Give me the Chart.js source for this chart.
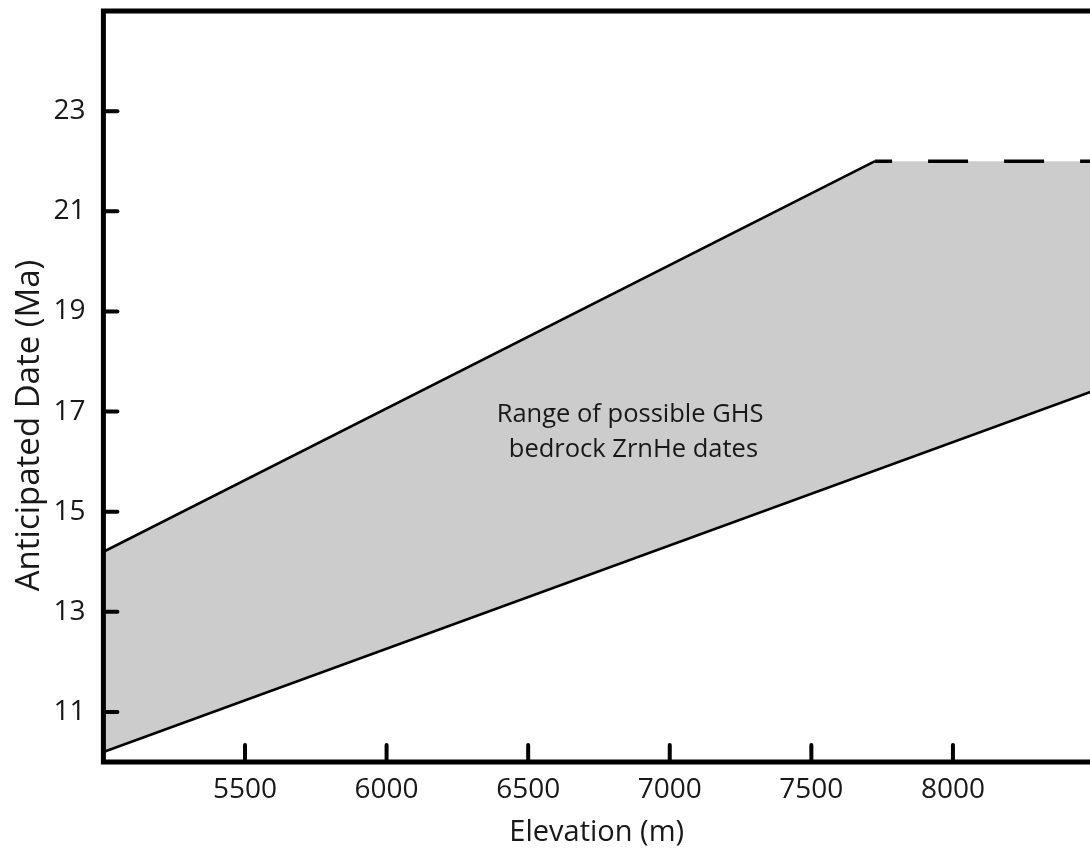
<!DOCTYPE html>
<html>
<head>
<meta charset="utf-8">
<script src="https://cdn.jsdelivr.net/npm/chart.js@4.4.1/dist/chart.umd.min.js"></script>
<style>
  html, body { margin: 0; padding: 0; background: #fff; overflow: hidden; }
</style>
</head>
<body>
<canvas id="rangeChart" width="1090" height="853"></canvas>
<script>
const elevTicks = [5500, 6000, 6500, 7000, 7500, 8000];
const dateTicks = [11, 13, 15, 17, 19, 21, 23];

// upper edge of the band (solid, then dashed once it flattens out)
const upperElev = [5000, 7725, 8500];
const upperDate = [14.2, 22.0, 22.0];

// lower edge of the band
const lowerElev = [5000, 8500];
const lowerDate = [10.2, 17.42];

const bandLabel = ["Range of possible GHS", " bedrock ZrnHe dates"];
const yTitle = "Anticipated Date (Ma)";

const FONT = "'Open Sans', sans-serif";
const INK = "#1a1718";

// frame + inward tick marks, y title and the label inside the band
const framePlugin = {
  id: "frame",
  afterDatasetsDraw(chart) {
    const { ctx, chartArea: a, scales: { x, y } } = chart;
    ctx.save();
    ctx.strokeStyle = "#000";
    ctx.lineWidth = 5;
    ctx.lineJoin = "miter";
    ctx.beginPath();
    ctx.moveTo(a.right + 5, a.top);
    ctx.lineTo(a.left, a.top);
    ctx.lineTo(a.left, a.bottom);
    ctx.lineTo(a.right + 5, a.bottom);
    ctx.stroke();

    ctx.lineWidth = 4;
    ctx.lineCap = "round";
    y.ticks.forEach(t => {
      const py = y.getPixelForValue(t.value);
      ctx.beginPath();
      ctx.moveTo(a.left, py);
      ctx.lineTo(a.left + 14, py);
      ctx.stroke();
    });
    x.ticks.forEach(t => {
      const px = x.getPixelForValue(t.value);
      ctx.beginPath();
      ctx.moveTo(px, a.bottom);
      ctx.lineTo(px, a.bottom - 17);
      ctx.stroke();
    });

    // band label
    ctx.fillStyle = INK;
    ctx.font = "25.5px " + FONT;
    ctx.textAlign = "center";
    ctx.textBaseline = "alphabetic";
    const cx = x.getPixelForValue(6860);
    ctx.fillText(bandLabel[0], cx, y.getPixelForValue(16.79));
    ctx.fillText(bandLabel[1], cx, y.getPixelForValue(16.09));

    // y axis title, sits a bit below the middle of the axis
    ctx.font = "33px " + FONT;
    ctx.translate(38.5, 425.5);
    ctx.rotate(-Math.PI / 2);
    ctx.fillText(yTitle, 0, 0);
    ctx.restore();
  }
};

const dashed = (c, v) => (c.p0DataIndex >= 1 ? v : undefined);
const pts = (xs, ys) => xs.map((e, i) => ({ x: e, y: ys[i] }));

const ctx = document.getElementById("rangeChart").getContext("2d");
const chart = new Chart(ctx, {
  type: "line",
  data: {
    datasets: [
      {
        // grey band only
        label: "band",
        data: pts(upperElev, upperDate),
        borderWidth: 0,
        backgroundColor: "#cccccc",
        fill: 2,
        pointRadius: 0,
        order: 10
      },
      {
        label: "upper",
        data: pts(upperElev, upperDate),
        borderColor: "#000",
        borderWidth: 2.6,
        fill: false,
        pointRadius: 0,
        order: 1,
        segment: {
          borderDash: c => dashed(c, [40, 36]),
          borderDashOffset: c => dashed(c, 23),
          borderWidth: c => dashed(c, 3.5)
        }
      },
      {
        label: "lower",
        data: pts(lowerElev, lowerDate),
        borderColor: "#000",
        borderWidth: 2.6,
        fill: false,
        pointRadius: 0,
        order: 1
      }
    ]
  },
  options: {
    responsive: false,
    animation: false,
    devicePixelRatio: 1,
    layout: { padding: { top: 11, right: 0, left: 0, bottom: 0 } },
    plugins: { legend: { display: false }, tooltip: { enabled: false } },
    scales: {
      x: {
        type: "linear",
        min: 5000,
        max: 8484,
        afterBuildTicks: s => { s.ticks = elevTicks.map(v => ({ value: v })); },
        afterFit: s => { s.height = 91; s.paddingLeft = 0; s.paddingRight = 0; },
        grid: { display: false, drawTicks: false },
        border: { display: false },
        ticks: { font: { family: FONT, size: 28 }, color: INK, padding: 11, maxRotation: 0, callback: v => String(v) },
        title: {
          display: true,
          text: "Elevation (m)",
          font: { family: FONT, size: 29 },
          color: INK,
          padding: { top: 0, bottom: 3 }
        }
      },
      y: {
        type: "linear",
        min: 10,
        max: 25,
        afterBuildTicks: s => { s.ticks = dateTicks.map(v => ({ value: v })); },
        afterFit: s => { s.width = 103.4; s.paddingTop = 0; s.paddingBottom = 0; },
        grid: { display: false, drawTicks: false },
        border: { display: false },
        ticks: { font: { family: FONT, size: 28 }, color: INK, padding: 18, callback: v => String(v) },
        title: { display: false }
      }
    }
  },
  plugins: [framePlugin]
});
</script>
</body>
</html>
